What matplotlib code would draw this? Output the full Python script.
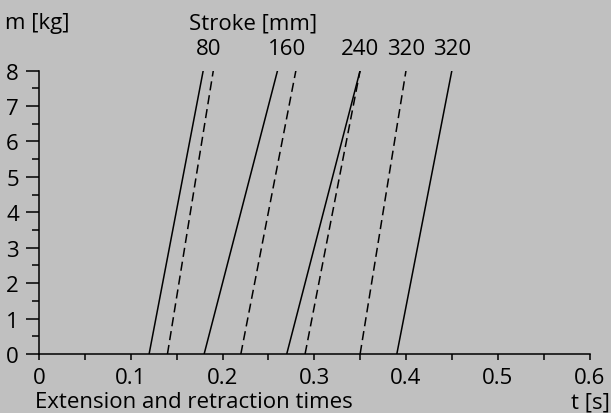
import matplotlib.pyplot as plt
from matplotlib.ticker import MultipleLocator

plt.rcParams['font.family'] = ['Open Sans', 'DejaVu Sans']

# mass axis end points of each line
mass = [0, 8]

# solid lines: time at m=0 and at m=8
solid_t0 = [0.12, 0.18, 0.27, 0.39]
solid_t8 = [0.179, 0.26, 0.35, 0.45]

# dashed lines: time at m=0 and at m=8
dashed_t0 = [0.14, 0.22, 0.29, 0.35]
dashed_t8 = [0.19, 0.28, 0.35, 0.40]

# stroke labels over the line tops
stroke_labels = ['80', '160', '240', '320', '320']
stroke_label_t = [0.185, 0.27, 0.35, 0.40, 0.45]

bg = '#c0c0c0'
fs = 16

fig = plt.figure(figsize=(6.11, 4.14), dpi=100, facecolor=bg)
ax = fig.add_axes([39 / 611, 1 - 355 / 414, (589.5 - 39) / 611, (355 - 71.5) / 414])
ax.set_facecolor(bg)

for t0, t8 in zip(solid_t0, solid_t8):
    ax.plot([t0, t8], mass, color='black', lw=1.1, solid_capstyle='butt')
for t0, t8 in zip(dashed_t0, dashed_t8):
    ax.plot([t0, t8], mass, color='black', lw=1.1, linestyle=(0, (6, 3.2)))

ax.set_xlim(0, 0.6)
ax.set_ylim(0, 8)
for s in ['top', 'right']:
    ax.spines[s].set_visible(False)
for s in ['left', 'bottom']:
    ax.spines[s].set_linewidth(1.1)

ax.xaxis.set_major_locator(MultipleLocator(0.1))
ax.xaxis.set_minor_locator(MultipleLocator(0.05))
ax.yaxis.set_major_locator(MultipleLocator(1))
ax.yaxis.set_minor_locator(MultipleLocator(0.5))
ax.set_xticks([0, 0.1, 0.2, 0.3, 0.4, 0.5, 0.6])
ax.set_xticklabels(['0', '0.1', '0.2', '0.3', '0.4', '0.5', '0.6'])
ax.tick_params(axis='x', which='both', direction='out', length=4.2, width=1.1,
               labelsize=fs, pad=5.5)
ax.tick_params(axis='y', which='major', direction='out', length=9.5, width=1.1,
               labelsize=fs, pad=5)
ax.tick_params(axis='y', which='minor', direction='out', length=5, width=1.1)

for lab, t in zip(stroke_labels, stroke_label_t):
    ax.text(t, 8.62, lab, ha='center', va='center', fontsize=fs, clip_on=False)

fig.text(5 / 611, 1 - 24 / 414, 'm [kg]', ha='left', va='center', fontsize=fs)
fig.text(189 / 611, 1 - 24 / 414, 'Stroke [mm]', ha='left', va='center', fontsize=fs)
fig.text(35 / 611, 1 - 403 / 414, 'Extension and retraction times', ha='left',
         va='center', fontsize=fs)
fig.text(610 / 611, 1 - 403 / 414, 't [s]', ha='right', va='center', fontsize=fs)

plt.savefig('out.png', dpi=100, facecolor=bg)
